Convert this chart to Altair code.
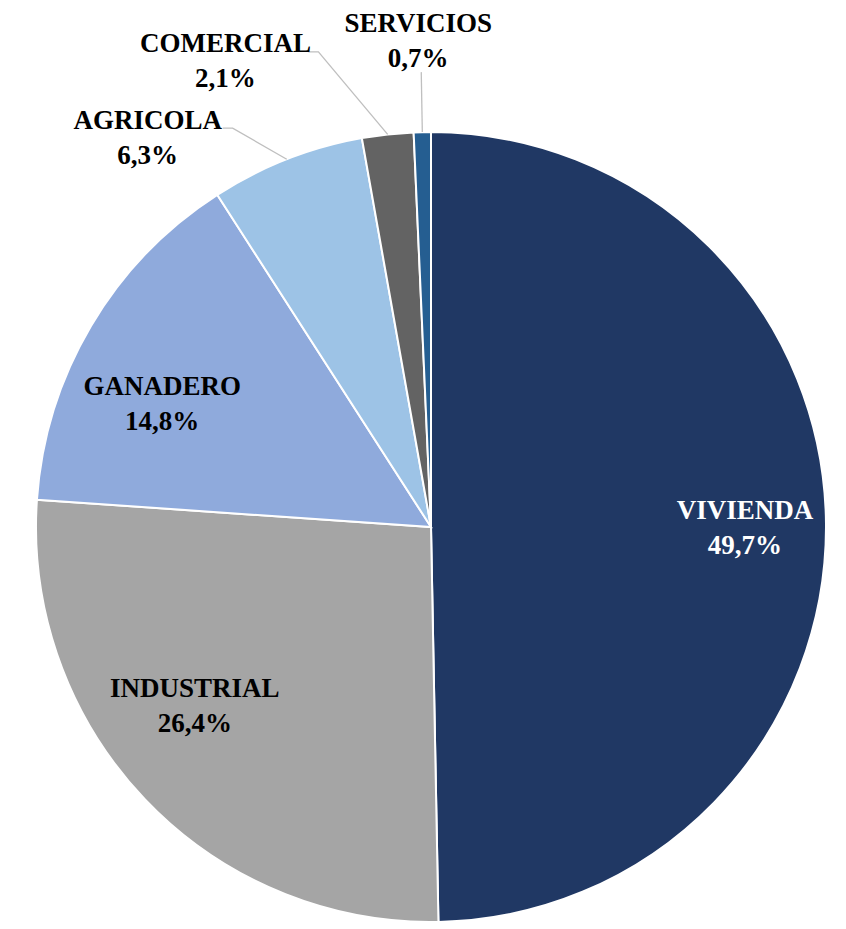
import math
import altair as alt
import pandas as pd

# ---- data ----
categories = ["VIVIENDA", "INDUSTRIAL", "GANADERO", "AGRICOLA", "COMERCIAL", "SERVICIOS"]
shares = [49.7, 26.4, 14.8, 6.3, 2.1, 0.7]
pct_labels = ["49,7%", "26,4%", "14,8%", "6,3%", "2,1%", "0,7%"]

# ---- style ----
colors = ["#203864", "#A5A5A5", "#8FAADC", "#9DC3E6", "#636363", "#255E91"]
text_colors = ["white", "black", "black", "black", "black", "black"]

W, H = 830, 913
CX, CY, R = 423, 519, 395
FONT = "Liberation Serif"
FS = 27
LH = 35

# label placement (centre of the two-line block): radius, dx, dy
label_layout = {
    "VIVIENDA": (314, 0, 4),
    "INDUSTRIAL": (297, -21, -25),
    "GANADERO": (296, -14, 28),
    "AGRICOLA": (450, -119, 30),
    "COMERCIAL": (470, -154, 2),
    "SERVICIOS": (489, -2, 3),
}
# leader line end points relative to label centre (elbow first)
leader_layout = {
    "AGRICOLA": [(85, -10), (75, -10)],
    "COMERCIAL": [(93, -10), (83, -10)],
    "SERVICIOS": [(3, 31)],
}

df = pd.DataFrame({
    "cat": categories,
    "share": shares,
    "pct": pct_labels,
    "order": list(range(len(categories))),
})
df["label"] = df["cat"] + "\n" + df["pct"]
total = sum(shares)
cum = 0.0
mids = []
for s in shares:
    mids.append(cum + s / 2)
    cum += s
df["mid"] = mids

base = alt.Chart(df)

color_scale = alt.Scale(domain=categories, range=colors)

pie = base.mark_arc(outerRadius=R, stroke="white", strokeWidth=2).encode(
    theta=alt.Theta("share:Q", stack=True),
    order=alt.Order("order:Q"),
    color=alt.Color("cat:N", scale=color_scale, legend=None),
    x=alt.value(CX),
    y=alt.value(CY),
)

# leader lines
rows = []
for cat, pts in leader_layout.items():
    i = categories.index(cat)
    ang = 2 * math.pi * mids[i] / total
    sx = CX + R * math.sin(ang)
    sy = CY - R * math.cos(ang)
    r, dx, dy = label_layout[cat]
    lx = CX + r * math.sin(ang) + dx
    ly = CY - r * math.cos(ang) + dy
    rows.append({"cat": cat, "seq": 0, "px": sx, "py": sy})
    for k, (ox, oy) in enumerate(pts):
        rows.append({"cat": cat, "seq": k + 1, "px": lx + ox, "py": ly + oy})
lead_df = pd.DataFrame(rows)

leaders = alt.Chart(lead_df).mark_line(color="#BFBFBF", strokeWidth=1.3).encode(
    x=alt.X("px:Q", scale=alt.Scale(domain=[0, W], range=[0, W]), axis=None),
    y=alt.Y("py:Q", scale=alt.Scale(domain=[0, H], range=[0, H]), axis=None),
    detail="cat:N",
    order="seq:Q",
)

layers = [pie, leaders]
for i, cat in enumerate(categories):
    r, dx, dy = label_layout[cat]
    layers.append(
        base.transform_filter(alt.datum.cat == cat)
        .mark_text(
            radius=r, dx=dx, dy=dy - LH / 2, font=FONT, fontSize=FS, fontWeight="bold",
            lineBreak="\n", lineHeight=LH, align="center", baseline="middle",
            color=text_colors[i],
        )
        .encode(
            theta=alt.Theta("mid:Q", stack=None),
            text="label:N",
            x=alt.value(CX),
            y=alt.value(CY),
        )
    )

chart = alt.layer(*layers).properties(
    width=W, height=H, padding=0, autosize=alt.AutoSizeParams(type="none")
).configure_view(stroke=None)

chart.save("out.html", embed_options={"renderer": "svg", "actions": False})
